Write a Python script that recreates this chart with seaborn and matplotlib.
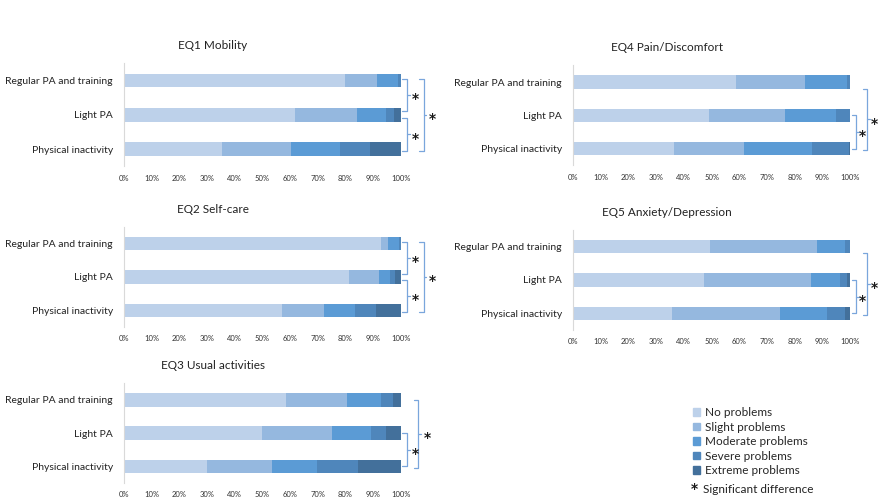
import numpy as np
import pandas as pd
import matplotlib
matplotlib.use("Agg")
import matplotlib.pyplot as plt
import seaborn as sns

groups = ["Regular PA and training", "Light PA", "Physical inactivity"]
levels = ["No problems", "Slight problems", "Moderate problems", "Severe problems", "Extreme problems"]
colors = ["#bdd1ea", "#95b8df", "#5b9bd5", "#4f86bb", "#43709b"]

# percentages per group: No, Slight, Moderate, Severe, Extreme
eq1 = [[80.0, 11.5, 7.5, 1.0, 0.0],
       [61.7, 22.3, 10.6, 3.0, 2.4],
       [35.3, 25.0, 17.7, 10.8, 11.2]]
eq2 = [[92.8, 2.6, 3.9, 0.7, 0.0],
       [81.2, 10.9, 3.9, 1.8, 2.2],
       [57.2, 15.1, 11.1, 7.8, 8.8]]
eq3 = [[58.7, 21.7, 12.6, 4.0, 3.0],
       [49.7, 25.5, 14.2, 5.4, 5.2],
       [30.1, 23.4, 16.4, 14.5, 15.6]]
eq4 = [[58.7, 24.9, 15.3, 1.1, 0.0],
       [49.1, 27.6, 18.4, 4.9, 0.0],
       [36.5, 25.2, 24.7, 13.2, 0.4]]
eq5 = [[49.3, 38.9, 9.9, 1.9, 0.0],
       [47.2, 38.8, 10.3, 2.6, 1.1],
       [35.7, 38.9, 17.2, 6.3, 1.9]]

titles = ["EQ1 Mobility", "EQ2 Self-care", "EQ3 Usual activities",
          "EQ4 Pain/Discomfort", "EQ5 Anxiety/Depression"]
panels = [eq1, eq2, eq3, eq4, eq5]
# significant comparisons (group index pairs)
sig = [[(0, 1), (1, 2), (0, 2)],
       [(0, 1), (1, 2), (0, 2)],
       [(1, 2), (0, 2)],
       [(1, 2), (0, 2)],
       [(1, 2), (0, 2)]]

sns.set_style("white")
plt.rcParams['font.family'] = ['Lato', 'DejaVu Sans']

fig = plt.figure(figsize=(8.79, 4.99), dpi=100)
boxes = [[0.141, 0.667, 0.315, 0.206],
         [0.141, 0.345, 0.315, 0.200],
         [0.141, 0.032, 0.315, 0.200],
         [0.652, 0.669, 0.315, 0.200],
         [0.652, 0.339, 0.315, 0.200]]

bracket_col = "#7aa6dc"
star_fs = 10


def bracket(ax, x, y0, y1, w=1.6):
    ax.plot([x - w, x, x, x - w], [y0, y0, y1, y1], color=bracket_col, lw=0.9, clip_on=False)
    ym = (y0 + y1) / 2
    ax.plot([x, x + w * 0.6], [ym, ym], color=bracket_col, lw=0.9, clip_on=False)
    return ym


def star(ax, x, y, **kw):
    # DejaVu asterisk sits high; shift it so its centre lands on (x, y)
    ax.annotate("*", (x, y), xytext=(0, -0.6 * star_fs), textcoords="offset points",
                ha="center", va="baseline", fontsize=star_fs, fontweight="bold",
                family="DejaVu Sans", color="#1a1a1a", annotation_clip=False, **kw)


for k in range(5):
    ax = fig.add_axes(boxes[k])
    rows = []
    for g, vals in zip(groups, panels[k]):
        for lv, v in zip(levels, vals):
            rows.append({"group": g, "level": lv, "value": v})
    df = pd.DataFrame(rows)
    wide = df.pivot(index="group", columns="level", values="value").loc[groups, levels]
    cum = wide.cumsum(axis=1)
    # draw from the full stack down so each segment is visible
    for j in range(len(levels) - 1, -1, -1):
        sns.barplot(x=cum.iloc[:, j].values, y=groups, orient="h", color=colors[j],
                    width=0.4, ax=ax, saturation=1, edgecolor="none")
    ax.set_xlim(0, 100)
    ax.set_ylim(2.5, -0.5)
    ax.set_xticks(np.arange(0, 101, 10))
    ax.set_xticklabels([f"{t}%" for t in range(0, 101, 10)], fontsize=5.5, color="#333333")
    ax.tick_params(axis="y", labelsize=7.5, length=0, pad=8, colors="#222222")
    ax.tick_params(axis="x", length=0, pad=6)
    for s in ["top", "right", "bottom"]:
        ax.spines[s].set_visible(False)
    ax.spines["left"].set_color("#d9d9d9")
    ax.spines["left"].set_linewidth(0.8)
    ax.set_xlabel("")
    ax.set_ylabel("")
    ax.set_title(titles[k], fontsize=8.5, pad=10, color="#222222",
                 x=0.32 if k < 3 else 0.34)

    n = len(sig[k])
    gap = 3.2 if k < 3 else 2.4
    for a, b in sig[k]:
        if b - a == 1:
            if n == 3:
                y0, y1 = (a - 0.05, b - 0.1) if a == 0 else (a + 0.1, b + 0.05)
            else:
                y0, y1 = a, b
            x = 102.2
        else:
            y0, y1 = (-0.05, 2.05) if n == 3 else (a + 0.2 if k >= 3 else a, b + 0.05)
            x = 108.3 if n == 3 else 106.3
        ym = bracket(ax, x, y0, y1)
        star(ax, x + gap, ym)

# legend
handles = [plt.Rectangle((0, 0), 1, 1, color=c) for c in colors]
fig.legend(handles, levels, loc="upper left", bbox_to_anchor=(0.782, 0.196),
           frameon=False, fontsize=8.5, handlelength=0.6, handleheight=0.6,
           handletextpad=0.4, labelspacing=0.3, borderpad=0)
star(ax, 0.79, 0.028, xycoords="figure fraction")
fig.text(0.8, 0.02, "Significant difference", fontsize=8.5, ha="left", va="center",
         color="#222222")

fig.savefig("out.png", dpi=100)
